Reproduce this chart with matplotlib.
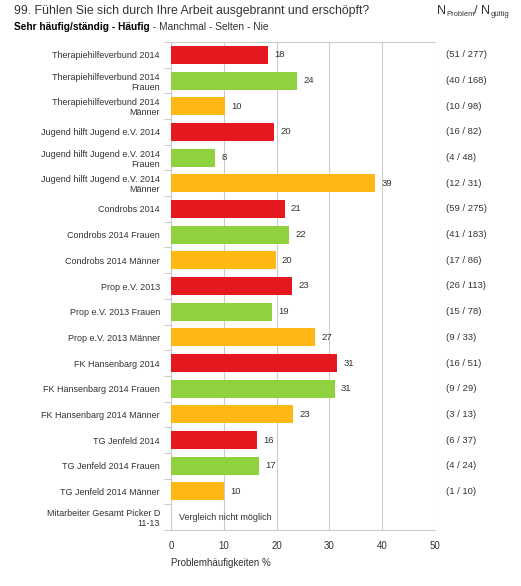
import matplotlib.pyplot as plt
import numpy as np

plt.rcParams['font.family'] = ['Liberation Sans', 'DejaVu Sans']

# Daten
labels = [
    'Therapiehilfeverbund 2014',
    'Therapiehilfeverbund 2014\nFrauen',
    'Therapiehilfeverbund 2014\nMänner',
    'Jugend hilft Jugend e.V. 2014',
    'Jugend hilft Jugend e.V. 2014\nFrauen',
    'Jugend hilft Jugend e.V. 2014\nMänner',
    'Condrobs 2014',
    'Condrobs 2014 Frauen',
    'Condrobs 2014 Männer',
    'Prop e.V. 2013',
    'Prop e.V. 2013 Frauen',
    'Prop e.V. 2013 Männer',
    'FK Hansenbarg 2014',
    'FK Hansenbarg 2014 Frauen',
    'FK Hansenbarg 2014 Männer',
    'TG Jenfeld 2014',
    'TG Jenfeld 2014 Frauen',
    'TG Jenfeld 2014 Männer',
    'Mitarbeiter Gesamt Picker D\n11-13',
]
values = [18.4, 23.8, 10.2, 19.5, 8.3, 38.7, 21.5, 22.4, 19.8,
          23.0, 19.2, 27.3, 31.4, 31.0, 23.1, 16.2, 16.7, 10.0, None]
value_labels = ['18', '24', '10', '20', '8', '39', '21', '22', '20',
                '23', '19', '27', '31', '31', '23', '16', '17', '10', '']
groups = ['gesamt', 'frauen', 'maenner'] * 6 + ['gesamt']
n_counts = ['(51 / 277)', '(40 / 168)', '(10 / 98)', '(16 / 82)', '(4 / 48)',
            '(12 / 31)', '(59 / 275)', '(41 / 183)', '(17 / 86)', '(26 / 113)',
            '(15 / 78)', '(9 / 33)', '(16 / 51)', '(9 / 29)', '(3 / 13)',
            '(6 / 37)', '(4 / 24)', '(1 / 10)', '']

farben = {'gesamt': '#E3191F', 'frauen': '#8FD13F', 'maenner': '#FDB813'}
txt = '#333333'

fig = plt.figure(figsize=(5.21, 5.86), dpi=100)
ax = fig.add_axes([171 / 521, 1 - 530 / 586, 264 / 521, 488 / 586])

n = len(labels)
y = np.arange(n)
for i in range(n):
    if values[i] is None:
        ax.text(1.5, y[i], 'Vergleich nicht möglich', va='center', ha='left',
                fontsize=6.5, color=txt)
        continue
    ax.barh(y[i], values[i], height=0.7, color=farben[groups[i]], zorder=3)
    ax.text(values[i] + 1.2, y[i], value_labels[i], va='center', ha='left',
            fontsize=6.8, color=txt)
    ax.text(1.04, y[i], n_counts[i], transform=ax.get_yaxis_transform(),
            va='center', ha='left', fontsize=6.8, color=txt)

ax.set_xlim(0, 50)
ax.set_ylim(n - 0.5, -0.5)
ax.set_xticks(np.arange(0, 51, 10))
ax.tick_params(axis='x', length=0, labelsize=7, labelcolor=txt, pad=8)
ax.set_yticks(y)
ax.set_yticklabels(labels, fontsize=6.5, color=txt, linespacing=1.15)
ax.tick_params(axis='y', length=0, pad=8)
ax.set_yticks(np.arange(-0.5, n, 1), minor=True)
ax.tick_params(axis='y', which='minor', length=5, color='#cccccc', width=0.8)
ax.grid(axis='x', color='#cccccc', linewidth=0.8, zorder=0)
for s in ['top', 'bottom', 'left']:
    ax.spines[s].set_color('#cccccc')
    ax.spines[s].set_linewidth(0.8)
ax.spines['right'].set_visible(False)

fig.text(171 / 521, 1 - 563 / 586, 'Problemhäufigkeiten %', fontsize=7,
         color=txt, va='center', ha='left')

# Titel und Untertitel
fig.text(14 / 521, 1 - 11 / 586,
         '99. Fühlen Sie sich durch Ihre Arbeit ausgebrannt und erschöpft?',
         fontsize=8.8, color=txt, va='center', ha='left')

fig.canvas.draw()
r = fig.canvas.get_renderer()
inv = fig.transFigure.inverted()

def weiter(t):
    bb = t.get_window_extent(renderer=r)
    return inv.transform((bb.x1, bb.y0))[0]

xs = 14 / 521
ys = 1 - 27 / 586
t = fig.text(xs, ys, 'Sehr häufig/ständig - Häufig', fontsize=7.3,
             fontweight='bold', color='black', va='center', ha='left')
xs = weiter(t)
fig.text(xs, ys, ' - Manchmal - Selten - Nie', fontsize=7.3,
         color=txt, va='center', ha='left')

xn = 437 / 521
yn = 1 - 11 / 586
for s, fs, dy in [('N', 9, 0), ('Problem', 5.5, -0.006), ('/ N', 9, 0),
                  ('gültig', 5.5, -0.006)]:
    t = fig.text(xn, yn + dy, s, fontsize=fs, color=txt, va='center', ha='left')
    fig.canvas.draw()
    xn = weiter(t)

fig.savefig('out.png', dpi=100)
